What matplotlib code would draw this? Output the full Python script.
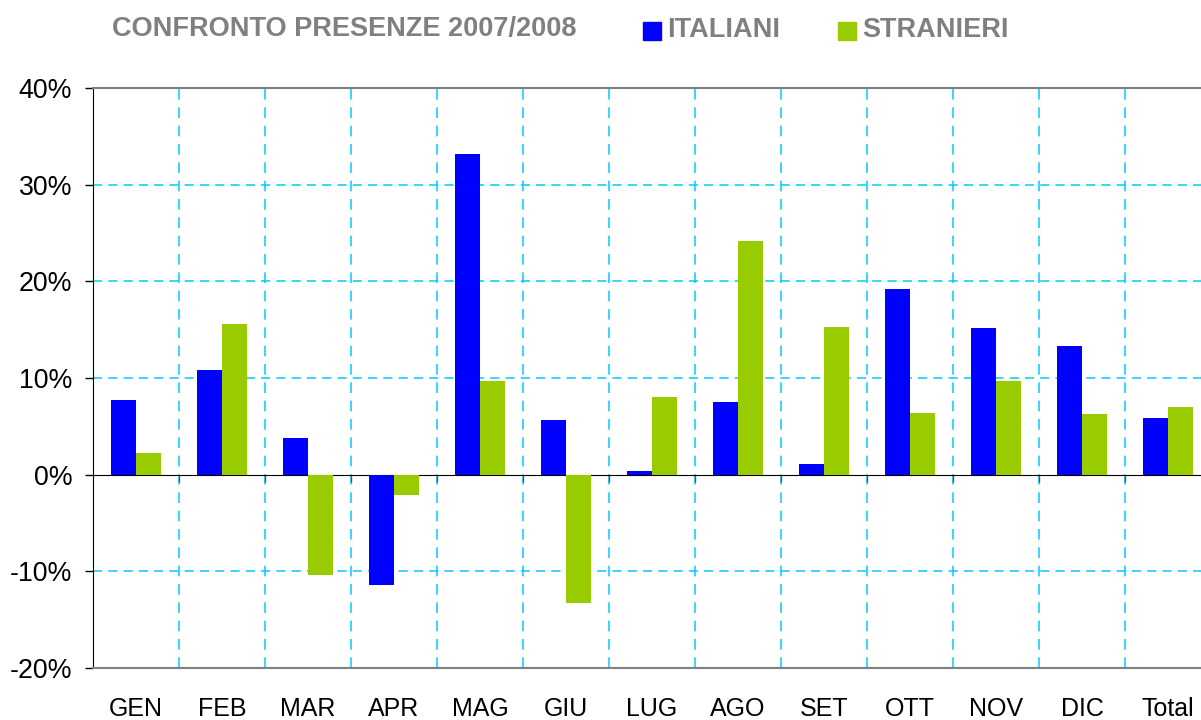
import numpy as np
import matplotlib.pyplot as plt
from matplotlib.patches import Rectangle
from matplotlib.ticker import FuncFormatter

plt.rcParams['font.family'] = ['Liberation Sans', 'DejaVu Sans']

# Dati
MESI = ["GEN", "FEB", "MAR", "APR", "MAG", "GIU", "LUG", "AGO", "SET", "OTT", "NOV", "DIC", "Total"]
ITALIANI = [7.74, 10.84, 3.82, -11.41, 33.13, 5.68, 0.41, 7.53, 1.14, 19.2, 15.17, 13.31, 5.88]
STRANIERI = [2.27, 15.58, -10.38, -2.13, 9.70, -13.26, 8.05, 24.15, 15.27, 6.40, 9.70, 6.30, 7.02]

BLU = "#0000FF"
VERDE = "#99CC00"
GRIGIO = "#808080"
CIANO = "#00CCFF"

W, H = 1201, 720
fig = plt.figure(figsize=(W / 100, H / 100), dpi=100)
ax = fig.add_axes([93 / W, (H - 668) / H, (W - 93) / W, (668 - 88) / H])

x = np.arange(len(MESI))
bw = 0.29
ax.bar(x - bw / 2, ITALIANI, bw, color=BLU, zorder=3)
ax.bar(x + bw / 2, STRANIERI, bw, color=VERDE, zorder=3)

ax.set_xlim(-0.5, 12.5 - 10 / 86)
ax.set_ylim(-20, 40)
ax.set_yticks(np.arange(-20, 41, 10))
ax.yaxis.set_major_formatter(FuncFormatter(lambda v, p: f"{v:.0f}%"))
ax.tick_params(axis="y", direction="out", length=6, width=1, labelsize=19.3, pad=9, colors="black")

# asse x sullo zero con tacche ai confini
ax.spines["bottom"].set_position(("data", 0))
ax.spines["bottom"].set_color("black")
ax.set_xticks(x[:-1] + 0.5)
ax.set_xticklabels([])
ax.tick_params(axis="x", direction="out", length=5, width=1, color="#555555")
for i, m in enumerate(MESI):
    ax.text(i, -0.07, m, transform=ax.get_xaxis_transform(), ha="center", va="center", fontsize=18)

ax.spines["right"].set_visible(False)
ax.spines["top"].set_color(GRIGIO)
ax.spines["top"].set_linewidth(1.5)
ax.spines["left"].set_color("black")
ax.axhline(-20, color=GRIGIO, lw=1.5, zorder=4, clip_on=False)

# griglia
for yv in [-10, 10, 20, 30]:
    ax.axhline(yv, color=CIANO, lw=1.1, dashes=(6, 4), zorder=1)
for xv in x[:-1] + 0.5:
    ax.axvline(xv, color=CIANO, lw=1.1, dashes=(7, 5), zorder=1)

# titolo e legenda
fig.text(112 / W, 1 - 29 / H, "CONFRONTO PRESENZE 2007/2008", color=GRIGIO,
         fontsize=19.5, fontweight="bold", ha="left", va="center")
for x0, col, lab in [(643, BLU, "ITALIANI"), (838, VERDE, "STRANIERI")]:
    fig.patches.append(Rectangle((x0 / W, 1 - 40 / H), 18 / W, 18 / H,
                                 transform=fig.transFigure, color=col, figure=fig))
    fig.text((x0 + 24) / W, 1 - 30 / H, lab, color=GRIGIO, fontsize=19.5,
             fontweight="bold", ha="left", va="center")

fig.savefig("out.png", dpi=100)
